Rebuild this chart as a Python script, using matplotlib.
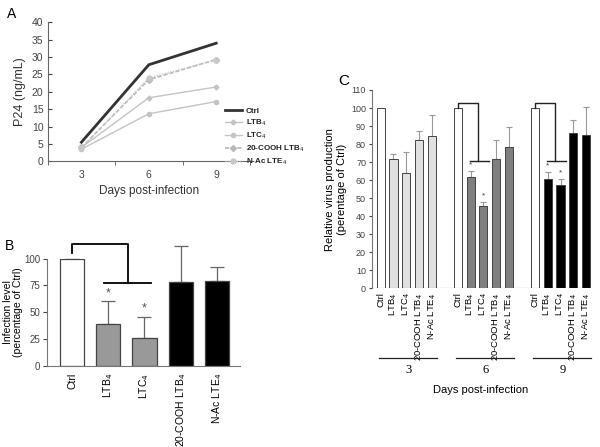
import matplotlib
matplotlib.use("Agg")
import matplotlib.pyplot as plt
import matplotlib.transforms as mtransforms
import numpy as np

plt.rcParams['font.family'] = ['Liberation Sans', 'DejaVu Sans']

# ---------------- data ----------------
days = ["3", "6", "9"]
a_ctrl = [5.5, 27.8, 34.0]
a_ltb4 = [4.0, 18.3, 21.4]
a_ltc4 = [3.5, 13.7, 17.2]
a_cooh = [4.0, 23.5, 29.3]
a_nac = [3.8, 24.0, 29.2]
a_labels = ["Ctrl", "LTB$_4$", "LTC$_4$", "20-COOH LTB$_4$", "N-Ac LTE$_4$"]

b_labels = ["Ctrl", "LTB$_4$", "LTC$_4$", "20-COOH LTB$_4$", "N-Ac LTE$_4$"]
b_vals = [100, 38.6, 25.5, 78.2, 79.1]
b_err = [0, 21.5, 20.0, 33.6, 13.4]
b_colors = ["white", "#999999", "#999999", "black", "black"]

c_labels = ["Ctrl", "LTB$_4$", "LTC$_4$", "20-COOH LTB$_4$", "N-Ac LTE$_4$"]
c_groups = ["3", "6", "9"]
c_d3 = [100, 71.6, 63.9, 82.2, 84.2]
c_d3_err = [0, 2.7, 11.5, 4.8, 11.8]
c_d6 = [100, 61.8, 45.9, 71.6, 78.2]
c_d6_err = [0, 3.3, 2.0, 10.4, 11.0]
c_d9 = [100, 60.7, 57.2, 86.2, 85.3]
c_d9_err = [0, 3.9, 3.5, 7.4, 15.3]
c_group_colors = ["#e0e0e0", "#7f7f7f", "black"]

fig = plt.figure(figsize=(6.0, 4.47), dpi=100)

tick_col = "#444444"

# ---------------- Panel A ----------------
axA = fig.add_axes([0.0795, 0.639, 0.337, 0.311])
xa = np.arange(len(days))
axA.plot(xa, a_ctrl, color="#333333", lw=2.0, label=a_labels[0])
axA.plot(xa, a_ltb4, color="#c4c4c4", lw=1.0, marker="D", ms=2.5, label=a_labels[1])
axA.plot(xa, a_ltc4, color="#c4c4c4", lw=1.0, marker="o", ms=3, label=a_labels[2])
axA.plot(xa, a_cooh, color="#b8b8b8", lw=1.2, ls=(0, (2.5, 1.2)), marker="D", ms=3, label=a_labels[3])
axA.plot(xa, a_nac, color="#c8c8c8", lw=1.0, ls=(0, (1, 1)), marker="o", ms=3.5, label=a_labels[4])
axA.set_xlim(-0.5, 2.5)
axA.set_ylim(0, 40)
axA.set_yticks(range(0, 41, 5))
axA.set_xticks(xa)
axA.set_xticklabels(days)
axA.set_xticks([-0.5, 0.5, 1.5, 2.5], minor=True)
axA.tick_params(axis="x", which="major", length=0, labelsize=7.5, colors=tick_col, pad=6)
axA.tick_params(axis="x", which="minor", length=3, color="#555555", direction="out")
axA.tick_params(axis="y", length=3, direction="in", labelsize=7.5, colors=tick_col, pad=3)
for s in ["top", "right"]:
    axA.spines[s].set_visible(False)
for s in ["left", "bottom"]:
    axA.spines[s].set_color("#666666")
    axA.spines[s].set_linewidth(0.8)
axA.set_ylabel("P24 (ng/mL)", fontsize=9, color="#333333", labelpad=4)
axA.set_xlabel("Days post-infection", fontsize=8.5, color="#333333", labelpad=4)
leg = axA.legend(loc="upper left", bbox_to_anchor=(0.365, 0.772), bbox_transform=fig.transFigure,
                 frameon=False, fontsize=5.8, handlelength=2.1, labelspacing=0.3,
                 handletextpad=0.5, borderpad=0.2)
for t in leg.get_texts():
    t.set_fontweight("bold")
    t.set_color("#222222")

# ---------------- Panel B ----------------
axB = fig.add_axes([0.0778, 0.1819, 0.3222, 0.2394])
xb = np.arange(len(b_labels))
axB.bar(xb, b_vals, width=0.67, color=b_colors, edgecolor="#444444", linewidth=0.9, zorder=2)
axB.errorbar(xb, b_vals, yerr=[np.zeros(len(b_err)), b_err], fmt="none",
             ecolor="#666666", elinewidth=0.9, capsize=5, capthick=0.9, clip_on=False, zorder=1)
axB.set_xlim(-0.7, 4.64)
axB.set_ylim(0, 100)
axB.set_yticks([0, 25, 50, 75, 100])
axB.set_xticks(xb)
axB.set_xticklabels(b_labels, rotation=90, fontsize=7.5)
axB.tick_params(axis="x", length=0, pad=5)
axB.tick_params(axis="y", length=3, labelsize=7, colors=tick_col, pad=1.5)
for s in ["top", "right"]:
    axB.spines[s].set_visible(False)
for s in ["left", "bottom"]:
    axB.spines[s].set_color("#777777")
axB.set_ylabel("Infection level\n(percentage of Ctrl)", fontsize=7.5, labelpad=1, linespacing=1.0)
for i in [1, 2]:
    axB.text(xb[i], b_vals[i] + b_err[i] + 2, "*", ha="center", va="bottom", fontsize=9, color="#555555")
# bracket
mid_b = (xb[1] + xb[2]) / 2
axB.plot([xb[0], xb[0], mid_b + 0.06, mid_b + 0.06], [105, 113.7, 113.7, 77.3],
         color="black", lw=1.3, clip_on=False)
axB.plot([xb[1] - 0.12, xb[2] + 0.17], [77.3, 77.3], color="black", lw=1.3, clip_on=False)

# ---------------- Panel C ----------------
axC = fig.add_axes([0.6205, 0.355, 0.364, 0.4437])
c_vals = [c_d3, c_d6, c_d9]
c_errs = [c_d3_err, c_d6_err, c_d9_err]
xticks = []
xticklabels = []
for g, (vals, errs) in enumerate(zip(c_vals, c_errs)):
    xs = np.arange(len(vals)) + 6 * g
    cols = ["white"] + [c_group_colors[g]] * (len(vals) - 1)
    axC.bar(xs, vals, width=0.63, color=cols, edgecolor="#444444", linewidth=0.7, zorder=2)
    axC.errorbar(xs[1:], vals[1:], yerr=[np.zeros(len(errs) - 1), errs[1:]], fmt="none",
                 ecolor="#999999", elinewidth=0.8, capsize=2.5, capthick=0.8, zorder=1)
    xticks.extend(xs)
    xticklabels.extend(c_labels)
    if g > 0:
        for i in [1, 2]:
            axC.text(xs[i], vals[i] + errs[i] + 1.2, "*", ha="center", va="bottom",
                     fontsize=6, color="#444444")
        mid = (xs[1] + xs[2]) / 2
        axC.plot([xs[0], xs[0], mid + 0.1, mid + 0.1], [100, 102.9, 102.9, 70.6],
                 color="#222222", lw=1.0)
        axC.plot([xs[1] - 0.07, xs[2] + 0.4], [70.6, 70.6], color="#222222", lw=1.0)
axC.set_xlim(-0.65, 16.35)
axC.set_ylim(0, 110)
axC.set_yticks(range(0, 111, 10))
axC.set_xticks(xticks)
axC.set_xticklabels(xticklabels, rotation=90, fontsize=6.8)
axC.tick_params(axis="x", length=0, pad=3)
axC.tick_params(axis="y", length=2.5, labelsize=6.5, colors=tick_col, pad=2)
for s in ["top", "right", "bottom"]:
    axC.spines[s].set_visible(False)
axC.spines["left"].set_color("#777777")
axC.axhline(0, xmin=0, xmax=1, color="#666666", lw=0.8, zorder=3)
axC.set_ylabel("Relative virus production\n(perentage of Ctrl)", fontsize=8, labelpad=3)

trans = mtransforms.blended_transform_factory(axC.transData, axC.transAxes)
for g, lab in enumerate(c_groups):
    x0 = 6 * g - 0.12
    x1 = 6 * g + 4.4
    axC.plot([x0, x1], [-0.351, -0.351], color="#222222", lw=0.9, transform=trans, clip_on=False)
    axC.text((x0 + x1) / 2, -0.38, lab, transform=trans, ha="center", va="top",
             fontsize=9, family=["Liberation Serif", "DejaVu Serif"])
axC.text(7.8, -0.49, "Days post-infection", transform=trans, ha="center", va="top", fontsize=8)

# ---------------- panel letters ----------------
fig.text(0.012, 0.985, "A", fontsize=10, va="top")
fig.text(0.008, 0.465, "B", fontsize=10, va="top")
fig.text(0.563, 0.835, "C", fontsize=11, va="top")

fig.savefig("out.png", dpi=100)
